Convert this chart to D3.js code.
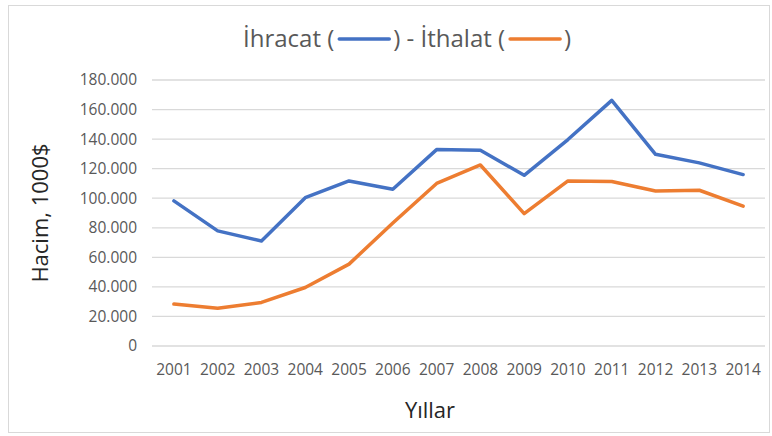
<!DOCTYPE html>
<meta charset="utf-8">
<style>
body { margin: 0; background: #fff; }
text { font-family: "Open Sans", "DejaVu Sans", sans-serif; fill: #595959; }
text.baslik-eksen { fill: #262626; }
.grid line { stroke: #d9d9d9; stroke-width: 1.3; }
.serie { fill: none; stroke-width: 3.5; stroke-linejoin: round; stroke-linecap: round; }
</style>
<svg width="772" height="436"></svg>
<script src="https://d3js.org/d3.v7.min.js"></script>
<script>

// veriler (1000$)
var yillar = ["2001","2002","2003","2004","2005","2006","2007","2008","2009","2010","2011","2012","2013","2014"];
var ihracat = [98200, 77900, 71100, 100400, 111700, 106100, 132900, 132400, 115500, 139700, 166200, 129700, 123900, 116000];
var ithalat = [28400, 25500, 29500, 39600, 55400, 83300, 110000, 122500, 89600, 111700, 111300, 104900, 105400, 94600];
var yTikler = [0, 20000, 40000, 60000, 80000, 100000, 120000, 140000, 160000, 180000];

var svg = d3.select("svg");

// cerceve
svg.append("rect")
    .attr("x", 8.5).attr("y", 5.5)
    .attr("width", 761).attr("height", 427)
    .attr("fill", "none").attr("stroke", "#d9d9d9");

var x = d3.scaleBand().domain(yillar).range([152, 765]);
var y = d3.scaleLinear().domain([0, 180000]).range([346, 80]);

// izgara
svg.append("g").attr("class", "grid")
  .selectAll("line").data(yTikler).enter().append("line")
    .attr("x1", 152).attr("x2", 765)
    .attr("y1", d => y(d)).attr("y2", d => y(d));

// y ekseni etiketleri
var fmt = d => d === 0 ? "0" : d3.format(",")(d).replace(/,/g, ".");
svg.append("g")
  .selectAll("text").data(yTikler).enter().append("text")
    .attr("x", 137).attr("y", d => y(d))
    .attr("dy", "0.35em")
    .attr("text-anchor", "end")
    .style("font-size", "15.5px")
    .text(fmt);

// x ekseni etiketleri
svg.append("g")
  .selectAll("text").data(yillar).enter().append("text")
    .attr("x", d => x(d) + x.bandwidth() / 2).attr("y", 375)
    .attr("text-anchor", "middle")
    .style("font-size", "15.5px")
    .text(d => d);

// eksen basliklari
svg.append("text")
    .attr("class", "baslik-eksen")
    .attr("x", 430).attr("y", 418)
    .attr("text-anchor", "middle")
    .style("font-size", "22px")
    .text("Yıllar");

svg.append("text")
    .attr("class", "baslik-eksen")
    .attr("transform", "translate(48,213) rotate(-90)")
    .attr("text-anchor", "middle")
    .style("font-size", "22px")
    .text("Hacim, 1000$");

// cizgiler
var line = d3.line()
    .x((d, i) => x(yillar[i]) + x.bandwidth() / 2)
    .y(d => y(d));

svg.append("path").attr("class", "serie").attr("stroke", "#4472c4").attr("d", line(ihracat));
svg.append("path").attr("class", "serie").attr("stroke", "#ed7d31").attr("d", line(ithalat));

// baslik (lejant cizgileri ile)
var bx = 243, ara = 59;
var baslik = svg.append("text")
    .attr("x", bx).attr("y", 47)
    .style("font-size", "24px");
var p1 = baslik.append("tspan").text("İhracat (");
var p2 = baslik.append("tspan").attr("dx", ara).text(") - İthalat (");
baslik.append("tspan").attr("dx", ara).text(")");

var w1 = p1.node().getComputedTextLength();
var w2 = p2.node().getComputedTextLength();
var lx1 = bx + w1 + 5;
var lx2 = bx + w1 + ara + w2 + 5;
[[lx1, "#4472c4"], [lx2, "#ed7d31"]].forEach(function(l) {
  svg.append("line").attr("x1", l[0]).attr("x2", l[0] + 50).attr("y1", 39).attr("y2", 39)
      .attr("stroke", l[1]).attr("stroke-width", 3.5).attr("stroke-linecap", "round");
});

</script>
